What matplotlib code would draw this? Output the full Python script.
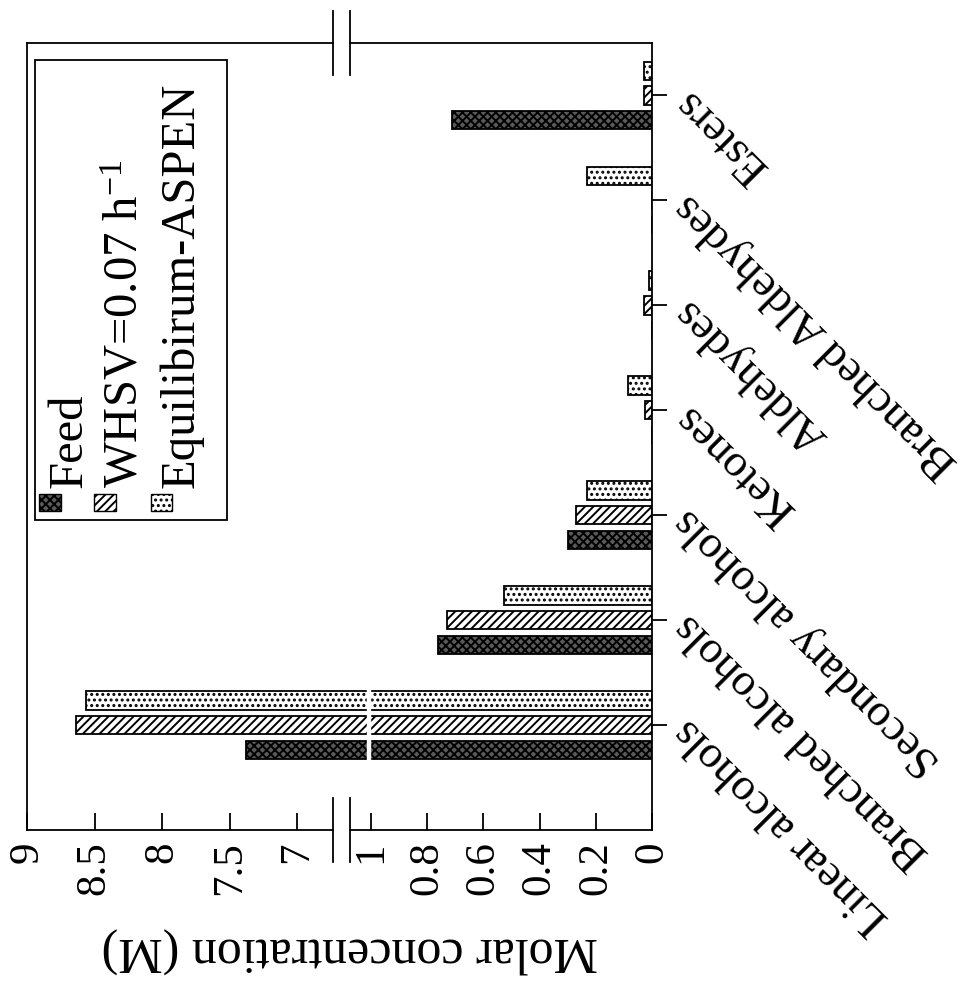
import numpy as np
import matplotlib
matplotlib.use("Agg")
import matplotlib.pyplot as plt
from matplotlib.patches import Rectangle

plt.rcParams["font.family"] = ["Liberation Serif", "DejaVu Serif"]
plt.rcParams["mathtext.fontset"] = "custom"
plt.rcParams["mathtext.rm"] = "Liberation Serif"
plt.rcParams["mathtext.it"] = "Liberation Serif:italic"
plt.rcParams["hatch.linewidth"] = 1.4

# data (molar concentration, M)
categories = ["Linear alcohols", "Branched alcohols", "Secondary alcohols",
              "Ketones", "Aldehydes", "Branched Aldehydes", "Esters"]
feed = [7.38, 0.76, 0.30, 0.0, 0.0, 0.0, 0.71]
whsv = [8.64, 0.73, 0.27, 0.025, 0.03, 0.0, 0.03]
equil = [8.56, 0.525, 0.23, 0.085, 0.01, 0.23, 0.03]
series_labels = ["Feed", "WHSV=0.07 h$^{-1}$", "Equilibirum-ASPEN"]
tick_vals = [0, 0.2, 0.4, 0.6, 0.8, 1, 7, 7.5, 8, 8.5, 9]
tick_text = ["0", "0.2", "0.4", "0.6", "0.8", "1", "7", "7.5", "8", "8.5", "9"]

# broken value axis: 0-1 and 7-9 joined through a short gap
brk_lo, brk_hi = 1.075, 6.733
knots_v = [0, 1, brk_lo, brk_hi, 7, 9]
knots_p = [0, 281, 302, 319, 355, 625]


def fwd(v):
    return np.interp(v, knots_v, knots_p)


def inv(p):
    return np.interp(p, knots_p, knots_v)


fig = plt.figure(figsize=(9.73, 9.99), dpi=100)
ax = fig.add_axes([27 / 973, 1 - 830 / 999, 625 / 973, 787 / 999])
ax.set_xscale("function", functions=(fwd, inv))

y = np.arange(len(categories))
h = 0.175
off = 0.235
styles = [dict(facecolor="#5a5a5a", hatch="xxxx"),
          dict(facecolor="white", hatch="////"),
          dict(facecolor="white", hatch="...")]
for vals, dy, st in zip([feed, whsv, equil], [-off, 0, off], styles):
    ax.barh(y + dy, vals, height=h, edgecolor="black", linewidth=1.3,
            zorder=2, **st)

# white cut through the long bars at the break value
ax.axvspan(1.004, 1.016, ymin=0.04, ymax=0.96, color="white", zorder=3)

ax.set_xlim(9, 0)
ax.set_ylim(-1, 6.5)

ax.set_xticks(tick_vals)
ax.set_xticklabels(tick_text, rotation=90, fontsize=31)
ax.tick_params(axis="x", direction="in", length=12, width=1.3, pad=8)

ax.yaxis.tick_right()
ax.set_yticks(y)
ax.set_yticklabels(categories, rotation=135, ha="right", va="center",
                   rotation_mode="anchor", fontsize=33)
ax.tick_params(axis="y", direction="out", length=11, width=1.3, pad=10)

ax.set_xlabel("Molar concentration (M)", rotation=180, fontsize=36)
ax.xaxis.set_label_coords(0.517, -0.153)
ax.xaxis.label.set_va("center")

for side in ["top", "bottom"]:
    ax.spines[side].set_visible(False)
for side in ["left", "right"]:
    ax.spines[side].set_linewidth(1.3)

tr = ax.get_xaxis_transform()
for yy in [0, 1]:
    ax.plot([9, brk_hi], [yy, yy], color="black", lw=1.3, transform=tr,
            clip_on=False, zorder=4)
    ax.plot([brk_lo, 0], [yy, yy], color="black", lw=1.3, transform=tr,
            clip_on=False, zorder=4)
    for xb in [brk_lo, brk_hi]:
        ax.plot([xb, xb], [yy - 0.041, yy + 0.041], color="black", lw=1.3,
                transform=tr, clip_on=False, zorder=4)

# legend drawn by hand so it can stand sideways like the rest of the chart
ta = ax.transAxes
ax.add_patch(Rectangle((0.013, 0.394), 0.307, 0.584, transform=ta,
                       facecolor="white", edgecolor="black", lw=1.3, zorder=5))
leg_x = [0.088, 0.176, 0.266]
for lx, st, lab in zip(leg_x, styles, series_labels):
    ax.add_patch(Rectangle((lx - 0.068, 0.405), 0.034, 0.022, transform=ta,
                           edgecolor="black", lw=1.0, zorder=6, **st))
    ax.text(lx, 0.434, lab, transform=ta, rotation=90, rotation_mode="anchor",
            ha="left", va="baseline", fontsize=35, zorder=6)

fig.savefig("out.png", dpi=100)
